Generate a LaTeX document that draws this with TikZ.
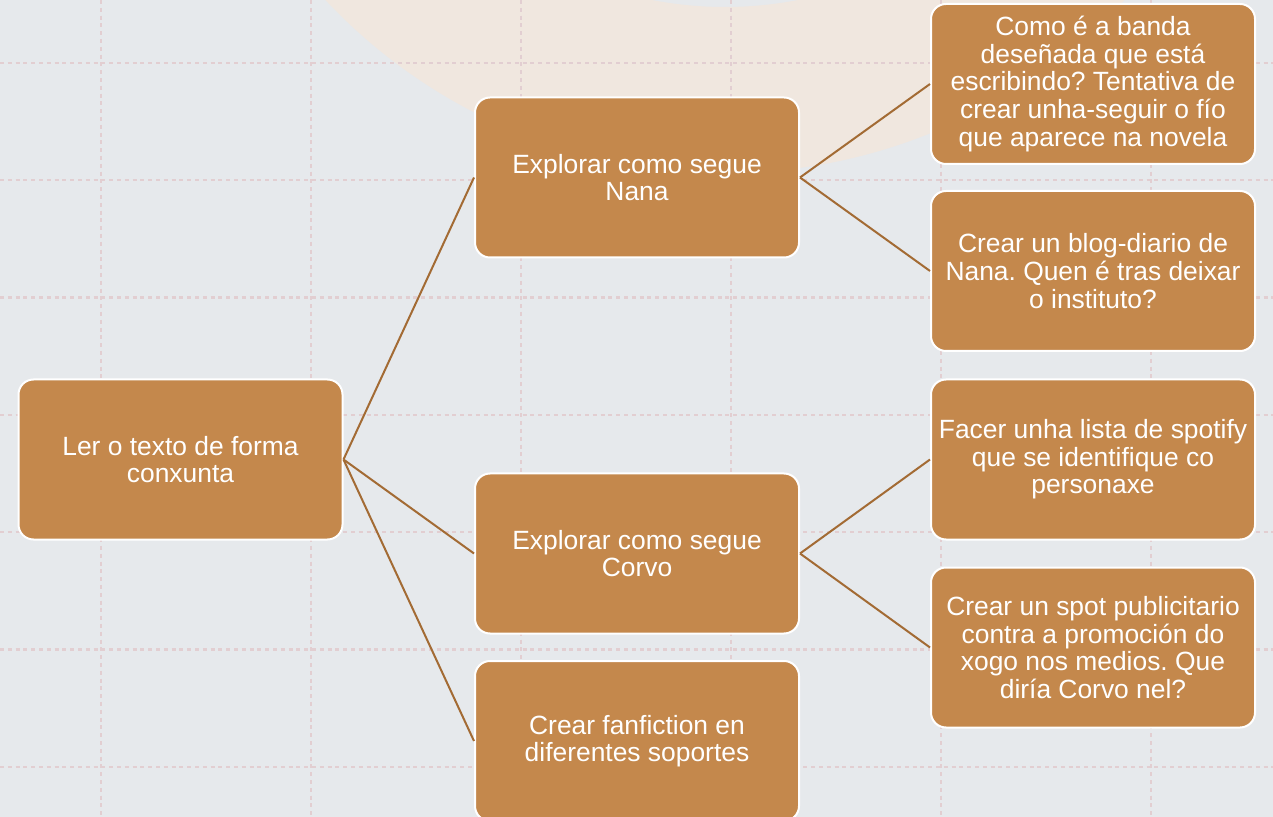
\documentclass[tikz,border=0pt]{standalone}
\usepackage{fontspec}
\setmainfont{Liberation Sans}
\frenchspacing
\definecolor{bgcol}{RGB}{230,233,236}
\definecolor{peachcol}{RGB}{240,231,223}
\definecolor{gridcol}{RGB}{226,206,209}
\definecolor{boxcol}{RGB}{196,136,76}
\definecolor{linkcol}{RGB}{163,107,52}
\tikzset{
	idea/.style={draw=white, line width=1pt, fill=boxcol, rounded corners=7.5pt,
		minimum width=162pt, minimum height=80pt, inner sep=3pt, align=center,
		text=white, font=\fontsize{13.2pt}{13.8pt}\selectfont},
	link/.style={draw=linkcol, line width=1pt},
	gridline/.style={draw=gridcol, line width=1.1pt, dash pattern=on 2pt off 1.9pt}
}

\begin{document}
\begin{tikzpicture}[x=0.5pt, y=-0.5pt]
			\useasboundingbox (0,0) rectangle (1273,817);
			\fill[bgcol] (0,0) rectangle (1273,817);
			\begin{scope}
			\clip (0,0) rectangle (1273,817);
			\fill[peachcol, even odd rule] (725,-375) circle (274pt) (725,-375) circle (191pt);
			\end{scope}
			\foreach \gx in {101,311,521,731,941,1151}
			\draw[gridline] (\gx,0) -- (\gx,817);
			\foreach \k in {0,...,6}
			\draw[gridline] (0,{63+117.3*\k}) -- (1273,{63+117.3*\k});
			\node[idea] (root) at (180.5,459.5) {Ler o texto de forma\\conxunta};
			\node[idea] (nana) at (637,177.5) {Explorar como segue\\Nana};
			\node[idea] (corvo) at (637,553.5) {Explorar como segue\\Corvo};
			\node[idea] (fanfic) at (637,741) {Crear fanfiction en\\diferentes soportes};
			\node[idea] (banda) at (1093,84) {Como é a banda\\deseñada que está\\escribindo? Tentativa de\\crear unha-seguir o fío\\que aparece na novela};
			\node[idea] (blog) at (1093,271) {Crear un blog-diario de\\Nana. Quen é tras deixar\\o instituto?};
			\node[idea] (lista) at (1093,459.5) {Facer unha lista de spotify\\que se identifique co\\personaxe};
			\node[idea] (spot) at (1093,647.5) {Crear un spot publicitario\\contra a promoción do\\xogo nos medios. Que\\diría Corvo nel?};
			\draw[link] (root.east) -- (nana.west);
			\draw[link] (root.east) -- (corvo.west);
			\draw[link] (root.east) -- (fanfic.west);
			\draw[link] (nana.east) -- (banda.west);
			\draw[link] (nana.east) -- (blog.west);
			\draw[link] (corvo.east) -- (lista.west);
			\draw[link] (corvo.east) -- (spot.west);
\end{tikzpicture}
\end{document}
